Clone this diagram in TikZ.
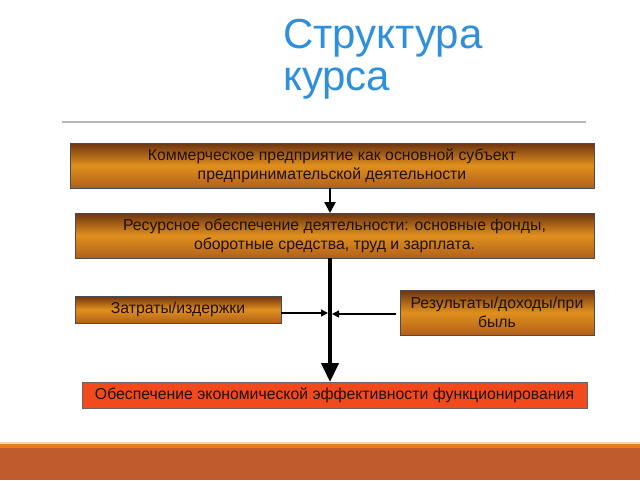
\documentclass[tikz,border=0pt]{standalone}
\usepackage{fontspec}
\setmainfont{Liberation Sans}
\usetikzlibrary{arrows.meta}
\definecolor{titleblue}{HTML}{2E90DC}
\definecolor{boxtop}{HTML}{6E3410}
\definecolor{boxmid}{HTML}{E0901E}
\definecolor{boxbot}{HTML}{B0601A}
\definecolor{redbox}{HTML}{F24A1C}
\definecolor{bandorange}{HTML}{E0801E}
\definecolor{bandrust}{HTML}{BE5A2C}
\definecolor{boxtext}{HTML}{201008}
\tikzset{
  gbox/.style={draw=black!70, line width=0.6pt, top color=boxtop, bottom color=boxbot, middle color=boxmid, inner sep=0pt, align=center, text=boxtext, font=\fontsize{15.8}{19}\selectfont},
  rbox/.style={draw=black!60, line width=0.6pt, fill=redbox, inner sep=0pt, align=center, text=boxtext, font=\fontsize{15.8}{19}\selectfont},
  conn/.style={draw=black, line width=2.5pt, -{Triangle[length=11pt, width=11pt]}},
  thickconn/.style={draw=black, line width=4pt, -{Triangle[length=19pt, width=17pt]}},
  sideconn/.style={draw=black, line width=1.4pt, -{Triangle[length=7pt, width=7pt]}},
}
\begin{document}
\begin{tikzpicture}[x=1pt,y=-1pt]
\useasboundingbox (0,0) rectangle (640,480);
% title
\node[anchor=north west, inner sep=0pt, text=titleblue, align=left, font=\fontsize{42}{42}\selectfont] (title) at (283,19) {Структура\\курса};
% separator
\draw[gray!55, line width=1.5pt] (62,122) -- (586,122);
% boxes
\node[gbox, minimum width=524pt, minimum height=45pt] (b1) at (332,165.5) {Коммерческое предприятие как основной субъект\\предпринимательской деятельности};
\node[gbox, minimum width=519pt, minimum height=45pt] (b2) at (334.5,235.5) {Ресурсное обеспечение деятельности: основные фонды,\\оборотные средства, труд и зарплата.};
\node[gbox, minimum width=206pt, minimum height=27pt] (b3) at (178,309.5) {Затраты/издержки};
\node[gbox, minimum width=194pt, minimum height=45pt] (b5) at (497,312.5) {Результаты/доходы/при\\быль};
\node[rbox, minimum width=505pt, minimum height=26pt] (b4) at (334.5,395) {Обеспечение экономической эффективности функционирования};
% connectors
\coordinate (m1) at (330,188);
\coordinate (m2) at (330,213);
\draw[conn] (m1) -- (m2);
\coordinate (t1) at (330,258);
\coordinate (t2) at (330,382);
\draw[thickconn] (t1) -- (t2);
\coordinate (l1) at (281,313);
\coordinate (l2) at (328,313);
\draw[sideconn] (l1) -- (l2);
\coordinate (r1) at (396,314);
\coordinate (r2) at (332,314);
\draw[sideconn] (r1) -- (r2);
% bottom bands
\fill[bandorange!30] (0,442) rectangle (640,444);
\fill[bandorange] (0,444) rectangle (640,448);
\fill[bandrust] (0,448) rectangle (640,480);
\end{tikzpicture}
\end{document}
